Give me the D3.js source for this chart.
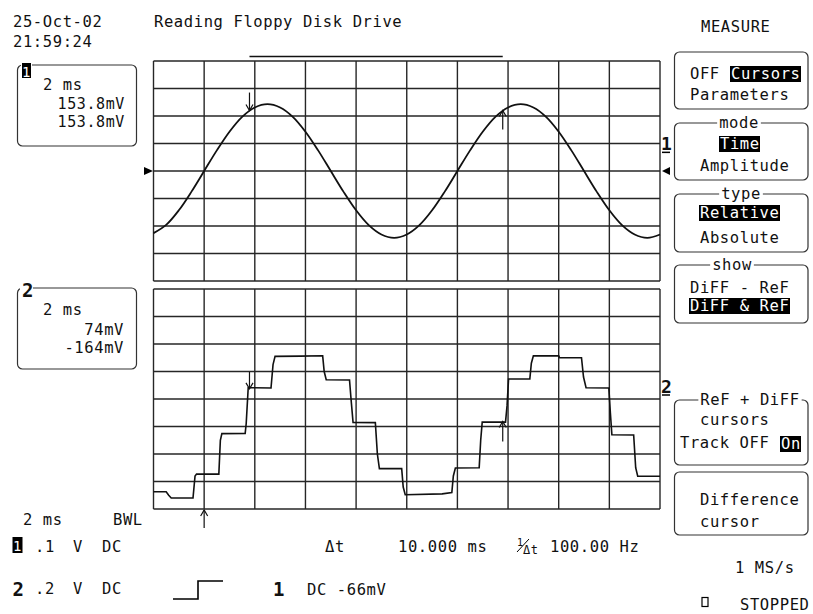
<!DOCTYPE html>
<html><head><meta charset="utf-8">
<script src="https://cdn.jsdelivr.net/npm/d3@7"></script>
<style>
html,body{margin:0;padding:0;background:#fff;}
svg{display:block;}
text{font-family:"DejaVu Sans Mono",monospace;font-size:15.5px;letter-spacing:0.6px;fill:#111;}
</style></head><body>
<svg id="c" width="813" height="614"></svg>
<script>
// ---------------- data ----------------
const timeGrid = [0,2,4,6,8,10,12,14,16,18,20];                 // ms (2 ms/div)
const ch1Grid = [-466,-366,-266,-166,-66,34,134,234,334];        // mV (.1 V/div)
const ch2Grid = [-800,-600,-400,-200,0,200,400,600,800];         // mV (.2 V/div)

const ch1Time = [0,0.5,1,1.5,2,2.5,3,3.5,4,4.5,5,5.5,6,6.5,7,7.5,8,8.5,9,9.5,10,
                 10.5,11,11.5,12,12.5,13,13.5,14,14.5,15,15.5,16,16.5,17,17.5,18,18.5,19,19.5,20];
const ch1Values = [-292,-262,-209,-141,-66,9,77,131,165,177,165,131,77,9,-66,-141,-209,-263,-297,-309,-297,
                   -263,-209,-141,-66,9,77,131,165,177,165,131,77,9,-66,-141,-209,-263,-297,-309,-297];

const ch2Time = [0,0.5,0.6,0.7,1.56,1.64,1.7,2.58,2.64,2.7,3.62,3.66,3.74,4.64,4.72,4.8,5.8,6.68,6.74,6.82,
                 7.74,7.8,7.88,8.76,8.84,8.92,9.8,9.86,9.94,11.4,11.78,11.84,11.92,12.86,12.92,12.98,13.9,13.96,
                 14.02,14.86,14.92,15.0,16.0,16.04,16.9,16.98,17.08,17.98,18.04,18.1,18.96,19.04,19.12,20];
const ch2Values = [-674,-674,-700,-720,-720,-560,-546,-546,-300,-252,-250,-180,82,80,250,310,312,314,200,140,
                   138,0,-170,-172,-400,-506,-506,-640,-696,-690,-680,-560,-502,-500,-300,-168,-168,-50,
                   146,146,260,314,314,300,300,160,82,80,-100,-260,-262,-500,-562,-562];

const cursorTimes = [3.79, 13.79];          // ms (ref, diff)
const ch1CursorValues = [153.8, 153.8];     // mV
const ch2CursorValues = [74, -164];         // mV
const triggerTime = 2;                      // ms
const ch1TriggerLevel = -66;                // mV

const headerDate = "25-Oct-02", headerTime = "21:59:24";
const title = "Reading Floppy Disk Drive";

// ---------------- drawing ----------------
const svg = d3.select("#c");
const X0 = 153.5, X1 = 660;
const x = d3.scaleLinear().domain([0,20]).range([X0, X1]);
const y1 = d3.scaleLinear().domain([-466,334]).range([281, 61]);
const y2 = d3.scaleLinear().domain([-800,800]).range([509, 289]);
const GRID = "#262626";

function grid(yScale, levels) {
  const g = svg.append("g").attr("stroke", GRID).attr("stroke-width", 1.4).attr("fill","none");
  timeGrid.forEach(t => g.append("line").attr("x1", x(t)).attr("x2", x(t))
      .attr("y1", yScale(levels[0])).attr("y2", yScale(levels[levels.length-1])));
  levels.forEach(v => g.append("line").attr("x1", X0).attr("x2", X1)
      .attr("y1", yScale(v)).attr("y2", yScale(v)));
}
grid(y1, ch1Grid);
grid(y2, ch2Grid);

// traces
const line1 = d3.line().x((d,i)=>x(ch1Time[i])).y(d=>y1(d)).curve(d3.curveCatmullRom);
svg.append("path").datum(ch1Values).attr("d", line1).attr("fill","none")
   .attr("stroke","#111").attr("stroke-width",1.8);
const line2 = d3.line().x((d,i)=>x(ch2Time[i])).y(d=>y2(d));
svg.append("path").datum(ch2Values).attr("d", line2).attr("fill","none")
   .attr("stroke","#111").attr("stroke-width",1.6);

// cursors
function arrow(xp, tipY, dir, len) { // dir: 1 = pointing down, -1 = pointing up
  const tail = tipY - dir*len;
  svg.append("line").attr("x1",xp).attr("x2",xp).attr("y1",tail).attr("y2",tipY)
     .attr("stroke","#111").attr("stroke-width",1.2);
  svg.append("path").attr("d",`M${xp-3.5},${tipY-dir*6}L${xp},${tipY}L${xp+3.5},${tipY-dir*6}`)
     .attr("fill","none").attr("stroke","#111").attr("stroke-width",1.2);
}
arrow(x(cursorTimes[0]), y1(ch1CursorValues[0]), 1, 18);
arrow(x(cursorTimes[1]), y1(ch1CursorValues[1]), -1, 19);
arrow(x(cursorTimes[0]), y2(ch2CursorValues[0]), 1, 17);
arrow(x(cursorTimes[1]), y2(ch2CursorValues[1]), -1, 20);
svg.append("line").attr("x1",x(cursorTimes[0])).attr("x2",x(cursorTimes[1]))
   .attr("y1",56.5).attr("y2",56.5).attr("stroke","#111").attr("stroke-width",1.3);
// trigger position arrow below grid
arrow(x(triggerTime), 510, -1, 18);
// trigger level markers
const ty = y1(ch1TriggerLevel);
svg.append("path").attr("d",`M144,${ty-4}L153,${ty}L144,${ty+4}Z`).attr("fill","#000");
svg.append("path").attr("d",`M670,${ty-4}L662,${ty}L670,${ty+4}Z`).attr("fill","#000");

// helpers
function txt(xp, yp, s, opts={}) {
  const t = svg.append("text").attr("x",xp).attr("y",yp).text(s);
  if (opts.anchor) t.attr("text-anchor",opts.anchor);
  if (opts.size) t.style("font-size",opts.size);
  if (opts.weight) t.style("font-weight",opts.weight);
  if (opts.fill) t.style("fill",opts.fill);
  return t;
}
function invRect(xp, yp, w) {
  svg.append("rect").attr("x",xp-1).attr("y",yp-13).attr("width",w).attr("height",16).attr("fill","#000");
}
function inv(xp, yp, s, w) {
  invRect(xp, yp, w);
  txt(xp, yp, s, {fill:"#fff"});
}
function box(x0, y0, x1, y1b) {
  svg.append("rect").attr("x",x0).attr("y",y0).attr("width",x1-x0).attr("height",y1b-y0)
     .attr("rx",5).attr("fill","none").attr("stroke","#333").attr("stroke-width",1.2);
}
function boxTitle(cx, top, s) {
  const w = s.length*9.93 + 4;
  svg.append("rect").attr("x",cx-w/2).attr("y",top-6).attr("width",w).attr("height",12).attr("fill","#fff");
  txt(cx, top+5, s, {anchor:"middle"});
}

// ground markers
txt(661, 150, "1", {weight:"bold", size:"18px"});
svg.append("line").attr("x1",662).attr("x2",670).attr("y1",y1(0)-0.5).attr("y2",y1(0)-0.5).attr("stroke","#000").attr("stroke-width",1.5);
txt(661, 393, "2", {weight:"bold", size:"18px"});
svg.append("line").attr("x1",662).attr("x2",670).attr("y1",395).attr("y2",395).attr("stroke","#000").attr("stroke-width",1.5);

// header
txt(13, 26.5, headerDate);
txt(13, 46.5, headerTime);
txt(154, 26.5, title);
txt(701, 31.5, "MEASURE");

// channel boxes
box(17.5, 65, 136.5, 146);
svg.append("rect").attr("x",21).attr("y",61).attr("width",11).attr("height",18).attr("fill","#fff");
svg.append("rect").attr("x",22).attr("y",63).attr("width",9).attr("height",15).attr("fill","#000");
txt(26.5, 77, "1", {anchor:"middle", fill:"#fff", size:"14px"});
txt(43, 90, "2 ms");
txt(125, 108.5, ch1CursorValues[0].toFixed(1)+"mV", {anchor:"end", size:"15px"});
txt(125, 127, ch1CursorValues[1].toFixed(1)+"mV", {anchor:"end", size:"15px"});

box(17.5, 288, 136.5, 369);
svg.append("rect").attr("x",20).attr("y",280).attr("width",13).attr("height",18).attr("fill","#fff");
txt(22, 297, "2", {weight:"bold", size:"19px"});
txt(43, 315, "2 ms");
txt(124, 335, ch2CursorValues[0]+"mV", {anchor:"end"});
txt(124, 353, ch2CursorValues[1]+"mV", {anchor:"end"});

// menu panels
const PX0 = 674.5, PX1 = 808;
box(PX0, 52, PX1, 109);
txt(690, 79, "OFF"); inv(731, 79, "Cursors", 71); txt(690, 100, "Parameters");
box(PX0, 123, PX1, 180); boxTitle(739, 123, "mode");
inv(720, 149, "Time", 41); txt(700, 171, "Amplitude");
box(PX0, 194, PX1, 252); boxTitle(741, 194, "type");
inv(700, 218, "Relative", 81); txt(700, 243, "Absolute");
box(PX0, 265, PX1, 323); boxTitle(732, 265, "show");
invRect(690, 311, 101);
const sh = svg.append("text");
sh.append("tspan").attr("x",690).attr("y",293).text("DiFF - ReF");
sh.append("tspan").attr("x",690).attr("y",311).style("fill","#fff").text("DiFF & ReF");
box(PX0, 400, PX1, 465); boxTitle(750, 400, "ReF + DiFF");
txt(700, 425, "cursors"); txt(680, 448, "Track OFF"); inv(781, 449, "On", 21);
box(PX0, 472, PX1, 535);
txt(700, 505, "Difference"); txt(700, 527, "cursor");
txt(735, 573, "1 MS/s");
svg.append("rect").attr("x",702).attr("y",597.5).attr("width",6).attr("height",9).attr("fill","none").attr("stroke","#000").attr("stroke-width",1.2);
txt(740, 610, "STOPPED");

// bottom status
txt(23, 525, "2 ms"); txt(113, 525, "BWL");
svg.append("rect").attr("x",12.5).attr("y",537).attr("width",10).attr("height",16).attr("fill","#000");
txt(17.5, 551, "1", {anchor:"middle", fill:"#fff", size:"14px"});
txt(35, 552, ".1"); txt(73, 552, "V"); txt(102, 552, "DC");
txt(12.5, 596, "2", {weight:"bold", size:"19px"});
txt(35, 594, ".2"); txt(73, 594, "V"); txt(102, 594, "DC");
svg.append("path").attr("d","M173,599H198V581H223").attr("fill","none").attr("stroke","#000").attr("stroke-width",1.6);
txt(273, 596, "1", {weight:"bold", size:"19px"});
txt(307, 595, "DC -66mV");
const dt = cursorTimes[1]-cursorTimes[0];
txt(325, 552, "Δt");
txt(398, 552, dt.toFixed(3)+" ms");
txt(517, 546, "1", {size:"10px"});
svg.append("line").attr("x1",517).attr("x2",529).attr("y1",552).attr("y2",539).attr("stroke","#000").attr("stroke-width",1);
txt(523, 554, "Δt", {size:"12px"});
txt(550, 552, (1000/dt).toFixed(2)+" Hz");
</script>
</body></html>
